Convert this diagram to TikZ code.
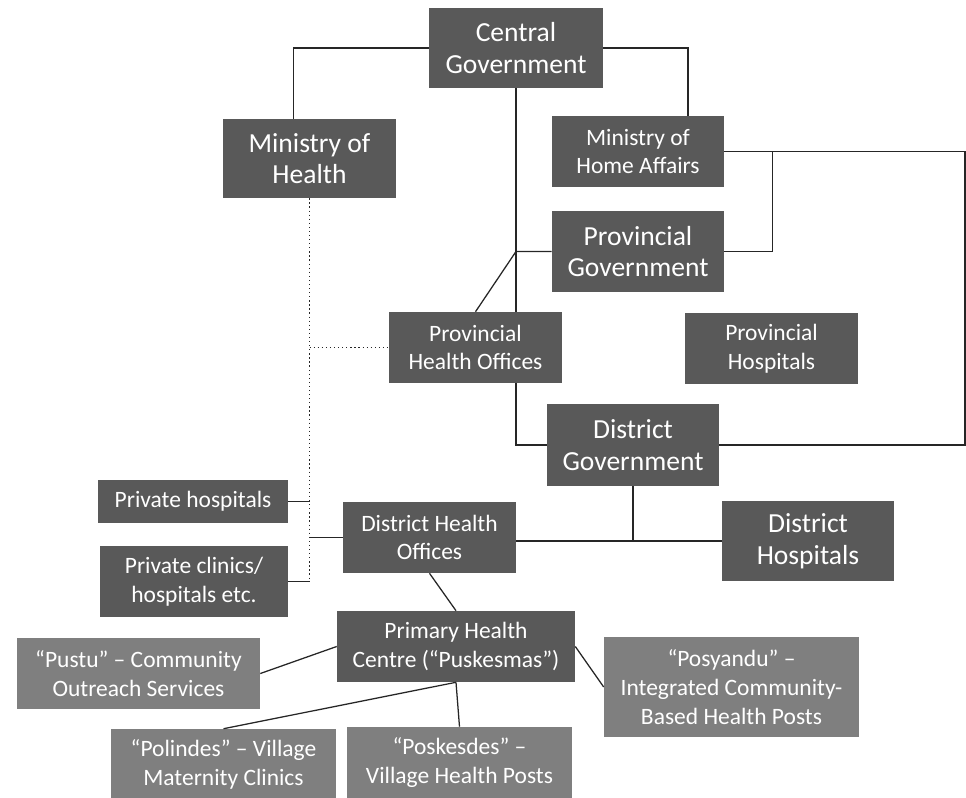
\documentclass[tikz,border=0pt]{standalone}
\usepackage{fontspec}
\setmainfont{Carlito}
\usepackage{xcolor}
\definecolor{boxDark}{HTML}{595959}
\definecolor{boxLight}{HTML}{7F7F7F}
\usepackage{tikz}
\usetikzlibrary{positioning, calc}

\begin{document}
\begin{tikzpicture}[
    x=0.025cm, y=-0.025cm,
    unit/.style={rectangle, fill=boxDark, text=white, inner sep=0pt, align=center},
    outreach/.style={unit, fill=boxLight},
    bigtxt/.style={font=\fontsize{19.6}{22.5}\selectfont},
    smalltxt/.style={font=\fontsize{16.7}{20.5}\selectfont},
    link/.style={draw=black!85, line width=0.9pt},
    loose/.style={link, dotted}
]
\useasboundingbox (0,0) rectangle (966,797);

\node[unit, bigtxt, minimum width=4.35cm, minimum height=2cm] (cg) at (516,48) {Central\\Government};
\node[unit, bigtxt, minimum width=4.325cm, minimum height=1.975cm] (moh) at (309.5,158.5) {Ministry of\\Health};
\node[unit, smalltxt, minimum width=4.3cm, minimum height=1.775cm] (moha) at (638,151.5) {Ministry of\\Home Affairs};
\node[unit, bigtxt, minimum width=4.3cm, minimum height=2.025cm] (pg) at (638,251.5) {Provincial\\Government};
\node[unit, smalltxt, minimum width=4.325cm, minimum height=1.775cm] (pho) at (475.5,347.5) {Provincial\\Health Offices};
\node[unit, smalltxt, minimum width=4.325cm, minimum height=1.775cm] (ph) at (771.5,348.5) {Provincial\\Hospitals};
\node[unit, bigtxt, minimum width=4.3cm, minimum height=2.05cm] (dg) at (633,445) {District\\Government};
\node[unit, bigtxt, minimum width=4.3cm, minimum height=2cm] (dh) at (808,541) {District\\Hospitals};
\node[unit, smalltxt, minimum width=4.325cm, minimum height=1.775cm] (dho) at (429.5,537.5) {District Health\\Offices};
\node[unit, smalltxt, minimum width=4.75cm, minimum height=1.075cm] (priv) at (193,501.5) {Private hospitals};
\node[unit, smalltxt, minimum width=4.7cm, minimum height=1.775cm] (privc) at (194,581.5) {Private clinics/\\hospitals etc.};
\node[unit, smalltxt, minimum width=5.95cm, minimum height=1.775cm] (phc) at (456,646.5) {Primary Health\\Centre (“Puskesmas”)};
\node[outreach, smalltxt, minimum width=6.075cm, minimum height=1.775cm] (pustu) at (138.5,673.5) {“Pustu” – Community\\Outreach Services};
\node[outreach, smalltxt, minimum width=6.375cm, minimum height=2.5cm] (posy) at (731.5,687) {“Posyandu” –\\Integrated Community-\\Based Health Posts};
\node[outreach, smalltxt, minimum width=5.625cm, minimum height=1.775cm] (polin) at (223.5,764.5) {“Polindes” – Village\\Maternity Clinics};
\node[outreach, smalltxt, minimum width=5.625cm, minimum height=1.775cm] (posk) at (459.5,762.5) {“Poskesdes” –\\Village Health Posts};

\coordinate (edge) at (965,0);

\draw[link] (cg.west) -| ($(moh.north)+(-16,0)$);
\draw[link] (cg.east) -| ($(moha.north)+(50,0)$);
\draw[link] (cg.south) -- (cg.south |- pho.north);
\draw[link] (pg.west) -- (cg.south |- pg.west) -- (pho.north);
\draw[link] (moha.east) -- (moha.east -| edge) |- (dg.east);
\draw[link] ($(moha.east)+(48,0)$) |- (pg.east);
\draw[link] (cg.south |- pho.south) |- (dg.west);

\draw[loose] (moh.south) -- (moh.south |- privc.east);
\draw[loose] (moh.south |- pho.west) -- (pho.west);
\draw[link] (priv.east) -- (moh.south |- priv.east);
\draw[link] (privc.east) -- (moh.south |- privc.east);
\draw[link] (moh.south |- dho.west) -- (dho.west);

\draw[link] (dg.south) -- (dg.south |- dh.west);
\draw[link] (dho.east |- dh.west) -- (dh.west);
\draw[link] (dho.south) -- (phc.north);
\draw[link] (phc.west) -- (pustu.east);
\draw[link] (phc.east) -- (posy.west);
\draw[link] (phc.south) -- (polin.north);
\draw[link] (phc.south) -- (posk.north);
\end{tikzpicture}
\end{document}
